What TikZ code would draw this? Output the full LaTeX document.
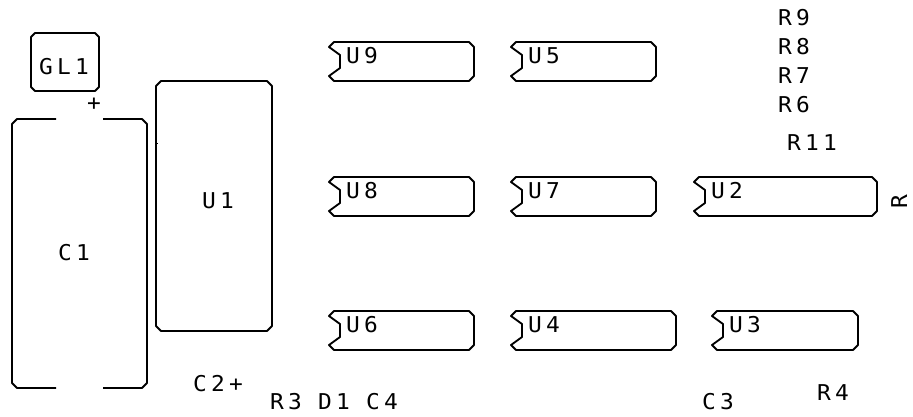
\documentclass[tikz,border=0pt]{standalone}
\usepackage{fontspec}
\newfontfamily\silkfont[LetterSpace=20,FakeStretch=1.05]{DejaVu Sans Mono}
\tikzset{
  outline/.style={line width=1.05pt, line join=round, color=black},
  refdes/.style={anchor=base west, inner sep=0pt, outer sep=0pt, font=\silkfont\fontsize{12.4}{13}\selectfont},
}
\begin{document}
\begin{tikzpicture}[x=0.02cm, y=-0.02cm]
    \useasboundingbox (0,0) rectangle (913,416);
    % notched chips
    \foreach \l/\t/\r/\b in
    {329/42/474/81,
     511/42/656/81,
     329/177/474/216,
     511/177/656/216,
     694/177/877/216,
     329/311/474/350,
     511/311/676/350,
     712/311/858/350
    }
    {
        \draw[outline] ({\l+5},\t) -- ({\r-5},\t) -- (\r,{\t+5}) -- (\r,{\b-5}) -- ({\r-5},\b)
            -- ({\l+5},\b) -- (\l,{\b-5}) -- ({\l+11},{\b-13}) -- ({\l+11},{\t+13}) -- (\l,{\t+5}) -- cycle;
    };
    % GL1 and U1 bodies
    \draw[outline] (35,33) -- (95,33) -- (99,37) -- (99,87) -- (95,91) -- (35,91) -- (31,87) -- (31,37) -- cycle;
    \draw[outline] (161,81) -- (267,81) -- (272,86) -- (272,326) -- (267,331) -- (161,331) -- (156,326) -- (156,86) -- cycle;
    \draw[line width=0.4pt] (155,143) -- (158,143);
    % C1 body, open at the middle of top and bottom
    \draw[outline] (56,119) -- (17,119) -- (12,124) -- (12,383) -- (17,388) -- (56,388);
    \draw[outline] (103,119) -- (142,119) -- (147,124) -- (147,383) -- (142,388) -- (103,388);
    % labels
    \foreach \n/\x/\y/\s in
    {tGL/39/74/GL1,
     tPlus/87/110/+,
     tUa/202/208/U1,
     tCa/58/260/C1,
     tCb/193/391/C2+,
     tRc/270/409/R3,
     tDa/318/409/D1,
     tCd/366/409/C4,
     tCc/702/409/C3,
     tRd/817/400/R4,
     tRi/778/25/R9,
     tRh/778/54/R8,
     tRg/778/83/R7,
     tRf/778/112/R6,
     tRk/787/150/R11,
     tUi/346/63/U9,
     tUe/528/63/U5,
     tUh/346/198/U8,
     tUg/528/198/U7,
     tUb/711/198/U2,
     tUf/346/332/U6,
     tUd/528/332/U4,
     tUc/729/332/U3
    }
    {
        \node[refdes] (\n) at (\x,\y) {\s};
    };
    \node[refdes, rotate=90] (tR) at (907,208) {R};
\end{tikzpicture}
\end{document}
